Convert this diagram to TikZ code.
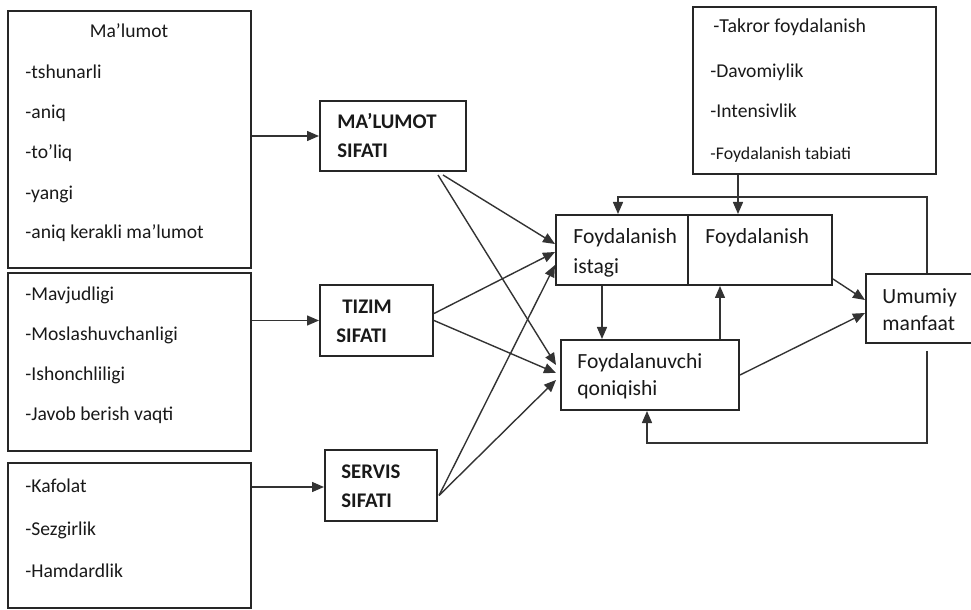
\documentclass[tikz,border=0pt]{standalone}
\usepackage{fontspec}
\setmainfont{Carlito}
\usetikzlibrary{positioning,fit,calc,arrows.meta}

\tikzset{
  box/.style={draw=black!85, line width=1pt, inner sep=0pt},
  item/.style={anchor=west, inner sep=0pt, text=black!90, text height=1.6ex, text depth=0.4ex, font=\fontsize{9.8}{12}\selectfont},
  qual/.style={anchor=west, inner sep=0pt, text=black!90, text height=1.6ex, text depth=0.4ex, font=\fontsize{10.4}{13}\selectfont\bfseries},
  res/.style={anchor=west, inner sep=0pt, text=black!90, text height=1.6ex, text depth=0.4ex, font=\fontsize{10.8}{13}\selectfont},
  link/.style={draw=black!80, line width=0.7pt, -{Triangle[length=6pt,width=5pt]}},
}

\begin{document}
\begin{tikzpicture}[x=0.5pt, y=-0.5pt]
    \useasboundingbox (0,0) rectangle (971,610);

    % Left boxes
    \node[box, fit={(8,11) (251,268)}] (malbox) {};
    \node[box, fit={(8,273) (251,451)}] (tizbox) {};
    \node[box, fit={(8,463) (251,608)}] (serbox) {};

    \node[item, anchor=center] (mal0) at (129,32) {Ma’lumot};
    \foreach \t/\y [count=\i] in {-tshunarli/73, -aniq/113, -to’liq/153, -yangi/194, -aniq kerakli ma’lumot/233}
        \node[item] (mal\i) at (25,\y) {\t};
    \foreach \t/\y [count=\i] in {-Mavjudligi/295, -Moslashuvchanligi/335, -Ishonchliligi/375, -Javob berish vaqti/415}
        \node[item] (tiz\i) at (25,\y) {\t};
    \foreach \t/\y [count=\i] in {-Kafolat/487, -Sezgirlik/530, -Hamdardlik/572}
        \node[item] (ser\i) at (25,\y) {\t};

    % Quality boxes
    \node[box, fit={(320,101) (466,171)}] (malq) {};
    \node[qual] (malqa) at (337,123) {MA’LUMOT};
    \node[qual] (malqb) at (337,152) {SIFATI};
    \node[box, fit={(320,285) (433,356)}] (tizq) {};
    \node[qual] (tizqa) at (342,308) {TIZIM};
    \node[qual] (tizqb) at (336,337) {SIFATI};
    \node[box, fit={(325,450) (437,521)}] (serq) {};
    \node[qual] (serqa) at (341,473) {SERVIS};
    \node[qual] (serqb) at (341,502) {SIFATI};

    % Use box
    \node[box, fit={(693,7) (936,174)}] (takbox) {};
    \node[item, font=\fontsize{9.9}{12}\selectfont] (tak1) at (713,27) {-Takror foydalanish};
    \node[item] (tak2) at (710,72) {-Davomiylik};
    \node[item] (tak3) at (710,112) {-Intensivlik};
    \node[item, font=\fontsize{8.9}{11}\selectfont] (tak4) at (710,154) {-Foydalanish tabiati};

    % Outcome boxes
    \node[box, fit={(556,215) (688,285)}] (ist) {};
    \node[res] (ista) at (573,238) {Foydalanish};
    \node[res] (istb) at (573,268) {istagi};
    \node[box, fit={(688,215) (832,285)}] (foyd) {};
    \node[res] (foyda) at (705,238) {Foydalanish};
    \node[box, fit={(561,340) (739,410)}] (qon) {};
    \node[res] (qona) at (577,363) {Foydalanuvchi};
    \node[res] (qonb) at (577,390) {qoniqishi};
    \node[box, fit={(866,274) (990,343)}] (umum) {};
    \node[res] (umuma) at (882,298) {Umumiy};
    \node[res] (umumb) at (882,325) {manfaat};

    % Left to quality
    \draw[link] (malbox.east |- malq) -- (malq.west);
    \draw[link] (tizbox.east |- tizq) -- (tizq.west);
    \draw[link] ([shift={(0,1.5)}]serbox.east |- serq) -- ([shift={(0,1.5)}]serq.west);

    % Quality to outcomes
    \draw[link] ([shift={(-24,3)}]malq.south east) -- ([shift={(0,-6)}]ist.west);
    \draw[link] ([shift={(-29,3)}]malq.south east) -- ([shift={(-4,-10)}]qon.west);
    \draw[link] ([shift={(0,-7)}]tizq.east) -- ([shift={(0,2)}]ist.west);
    \draw[link] (tizq.east) -- ([shift={(-4,-2)}]qon.west);
    \draw[link] ([shift={(1,10)}]serq.east) -- ([shift={(0,15)}]ist.west);
    \draw[link] ([shift={(1,10)}]serq.east) -- ([shift={(-4,5)}]qon.west);

    % Right part
    \coordinate (tk) at (738,0);
    \coordinate (dn) at (602,0);
    \coordinate (up) at (720,0);
    \coordinate (fbr) at (927,197);
    \coordinate (fbl) at (618,197);
    \coordinate (fbb) at (927,443);
    \coordinate (fbc) at (647,443);
    \draw[link] (takbox.south -| tk) -- (foyd.north -| tk);
    \draw[link] (ist.south -| dn) -- (qon.north -| dn);
    \draw[link] (qon.north -| up) -- (foyd.south -| up);
    \draw[link] ([shift={(0,-7)}]foyd.south east) -- ([shift={(0,-8.5)}]umum.west);
    \draw[link] (qon.east) -- ([shift={(0,4.5)}]umum.west);
    \draw[link] (umum.north -| fbr) -- (fbr) -- (fbl) -- (ist.north -| fbl);
    \draw[link] ([shift={(0,7)}]umum.south -| fbr) -- (fbb) -- (fbc) -- (qon.south -| fbc);
\end{tikzpicture}
\end{document}
